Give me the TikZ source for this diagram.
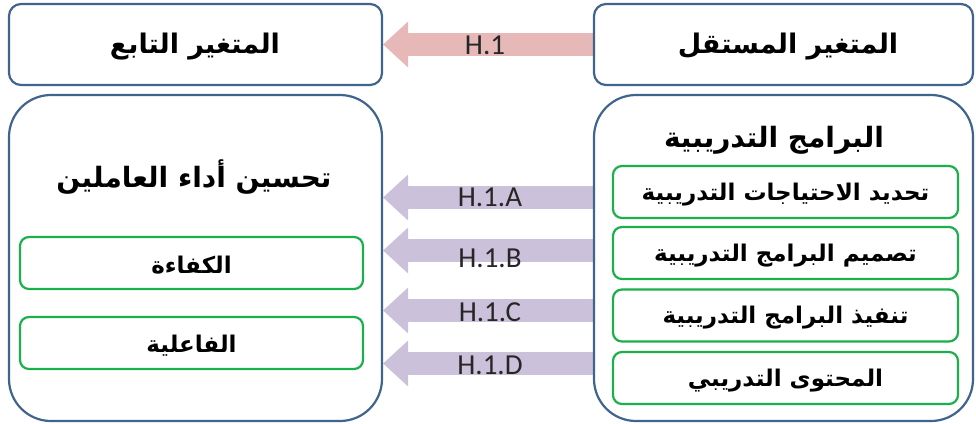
\documentclass[tikz,border=0pt]{standalone}
\usepackage{fontspec}
\TeXXeTstate=1
\newfontfamily\arabicfont[Script=Arabic]{DejaVu Sans}
\newfontfamily\latfont{Carlito}
\usetikzlibrary{arrows.meta,backgrounds}
\definecolor{boxblue}{HTML}{41648F}
\definecolor{boxgreen}{HTML}{1BB04B}
\definecolor{pinkarr}{HTML}{E6B9B8}
\definecolor{purparr}{HTML}{CCC1DA}
\tikzset{
  topbox/.style={draw=boxblue, line width=2.2pt, rounded corners=12pt, fill=white,
    minimum height=81pt, inner sep=0pt},
  bigbox/.style={draw=boxblue, line width=2.2pt, rounded corners=42pt, fill=white,
    inner sep=0pt, minimum height=326pt},
  greenbox/.style={draw=boxgreen, line width=2.2pt, rounded corners=9pt, fill=white,
    inner sep=0pt, minimum height=52pt},
  artitle/.style={font=\arabicfont\bfseries\fontsize{27}{31}\selectfont, yshift=-3pt},
  arbig/.style={font=\arabicfont\bfseries\fontsize{28}{32}\selectfont, yshift=-2pt},
  artext/.style={font=\arabicfont\bfseries\fontsize{23}{26}\selectfont, yshift=-2.5pt},
  hyparrow/.style={line width=23pt, -{Triangle[length=25pt,width=46pt,line width=0pt]}},
  hlabel/.style={font=\latfont\fontsize{29}{32}\selectfont, text=black!85, inner sep=0pt},
}
\begin{document}
\begin{tikzpicture}[x=1pt,y=-1pt]
\useasboundingbox (0,0) rectangle (976,423);
% top boxes
\node[topbox, minimum width=373pt] (tl) at (195.5,44.5) {};
\node[topbox, minimum width=379pt] (tr) at (783.5,44.5) {};
\node[artitle] (tlt) at (195,44) {\beginR المتغير التابع\endR};
\node[artitle] (trt) at (788,44) {\beginR المتغير المستقل\endR};
% big boxes
\node[bigbox, minimum width=373pt] (bl) at (195.5,258) {};
\node[bigbox, minimum width=379pt] (br) at (783.5,258) {};
\node[arbig] (blt) at (194,175) {\beginR تحسين أداء العاملين\endR};
\node[arbig] (brt) at (774,138) {\beginR البرامج التدريبية\endR};
% green boxes left
\node[greenbox, minimum width=343pt] (g1) at (191.5,263) {};
\node[greenbox, minimum width=343pt] (g2) at (191.5,343) {};
\node[artext] at (g1) {\beginR الكفاءة\endR};
\node[artext] at (g2) {\beginR الفاعلية\endR};
% green boxes right
\node[greenbox, minimum width=345pt] (r1) at (785.5,192) {};
\node[greenbox, minimum width=345pt] (r2) at (785.5,253) {};
\node[greenbox, minimum width=345pt] (r3) at (785.5,315.5) {};
\node[greenbox, minimum width=345pt] (r4) at (785.5,378) {};
\node[artext] at (r1) {\beginR تحديد الاحتياجات التدريبية\endR};
\node[artext] at (r2) {\beginR تصميم البرامج التدريبية\endR};
\node[artext] at (r3) {\beginR تنفيذ البرامج التدريبية\endR};
\node[artext] at (r4) {\beginR المحتوى التدريبي\endR};
% arrow anchor coordinates
\coordinate (aA) at (488,197.5);
\coordinate (aB) at (488,250.5);
\coordinate (aC) at (488,310.5);
\coordinate (aD) at (488,363.5);
\begin{scope}[on background layer]
  \draw[hyparrow, pinkarr] (tr.west) -- (tl.east);
  \draw[hyparrow, purparr] (br.west |- aA) -- (bl.east |- aA);
  \draw[hyparrow, purparr] (br.west |- aB) -- (bl.east |- aB);
  \draw[hyparrow, purparr] (br.west |- aC) -- (bl.east |- aC);
  \draw[hyparrow, purparr] (br.west |- aD) -- (bl.east |- aD);
\end{scope}
\node[hlabel] (h1) at (485,45) {H.1};
\node[hlabel] (hA) at (490,197) {H.1.A};
\node[hlabel] (hB) at (490,258) {H.1.B};
\node[hlabel] (hC) at (490,312) {H.1.C};
\node[hlabel] (hD) at (490,365) {H.1.D};
\end{tikzpicture}
\end{document}
